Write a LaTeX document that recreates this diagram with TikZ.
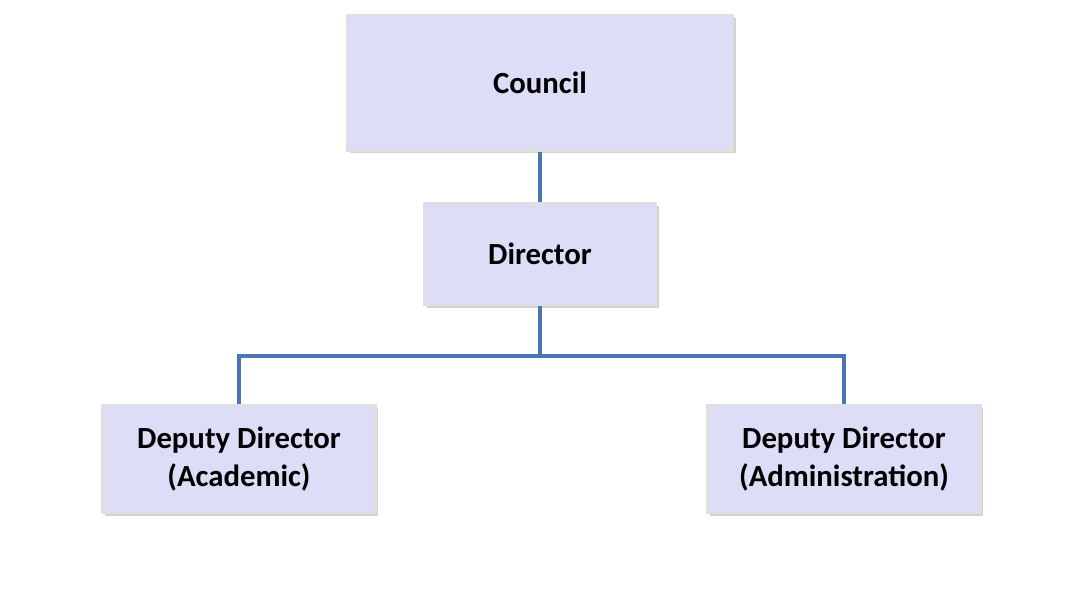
\documentclass[tikz,border=0pt]{standalone}
\usepackage{fontspec}
\setmainfont{Carlito}
\usetikzlibrary{shadows}
\definecolor{boxfill}{HTML}{DDDDF7}
\definecolor{linkblue}{HTML}{4A76B8}
\begin{document}
\begin{tikzpicture}[
    x=0.02cm, y=-0.02cm,
    unit/.style={draw=gray!25, line width=1.2pt, fill=boxfill, font=\bfseries\fontsize{17.5}{22}\selectfont,
        align=center, drop shadow={opacity=0.35, shadow xshift=1.5pt, shadow yshift=-1.5pt}},
    link/.style={draw=linkblue, line width=2pt}
]
\useasboundingbox (0,0) rectangle (1084,610);

% Boxes
\node[unit, minimum width=386*0.02cm, minimum height=135*0.02cm] (council) at (540,83) {Council};
\node[unit, minimum width=232*0.02cm, minimum height=102*0.02cm] (director) at (540,254) {Director};
\node[unit, minimum width=273*0.02cm, minimum height=108*0.02cm] (academic) at (239,459) {Deputy Director\\(Academic)};
\node[unit, minimum width=273*0.02cm, minimum height=108*0.02cm] (admin) at (844,459) {Deputy Director\\(Administration)};

% Connectors
\coordinate (split) at (540,356);
\draw[link] (council) -- (director);
\draw[link] (director) -- (split);
\draw[link] (split) -| (academic);
\draw[link] (split) -| (admin);
\end{tikzpicture}
\end{document}
